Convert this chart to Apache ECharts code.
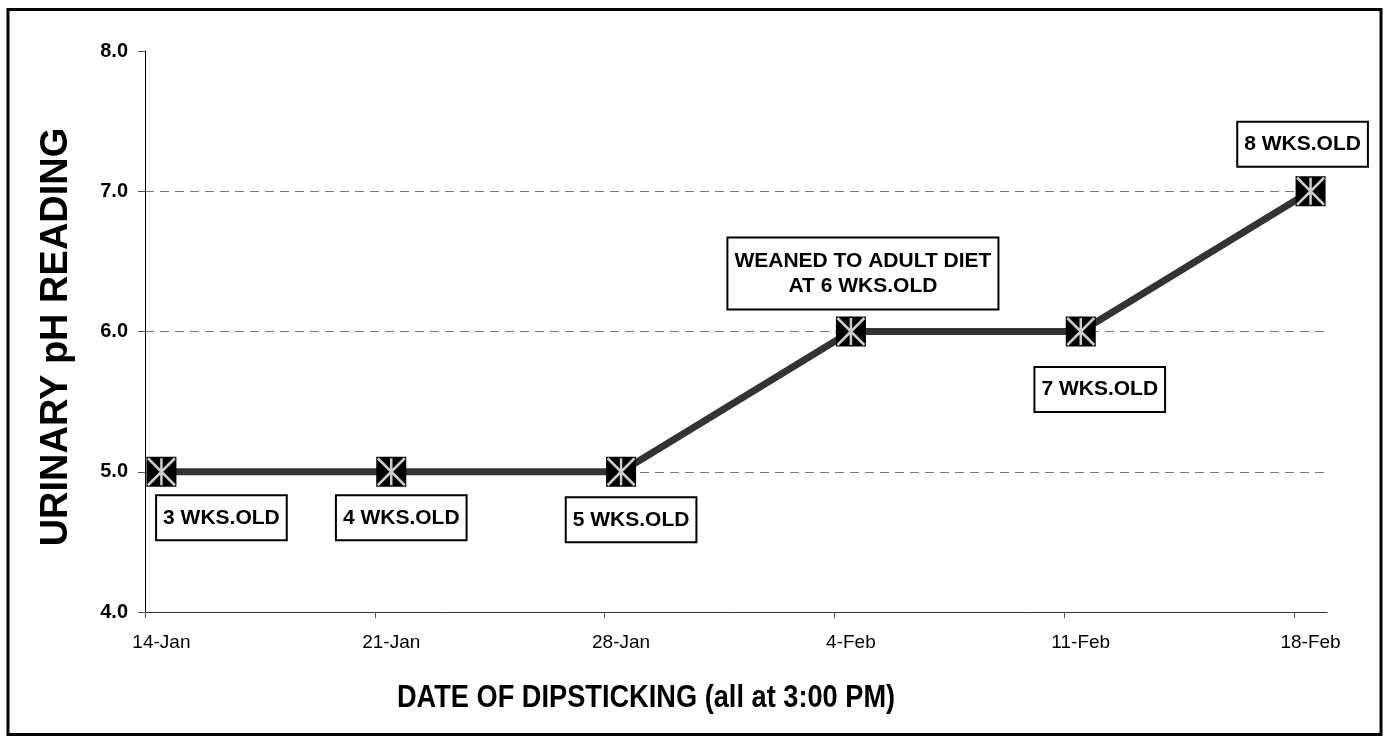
<!DOCTYPE html>
<html>
<head>
<meta charset="utf-8">
<script src="https://cdn.jsdelivr.net/npm/echarts@6/dist/echarts.min.js"></script>
<style>
  html, body { margin: 0; padding: 0; background: #fff; }
  #main { width: 1387px; height: 744px; }
</style>
</head>
<body>
<div id="main"></div>
<script>
// dates on the axis, one tick a week from 14-Jan
var tickLabels = ['14-Jan', '21-Jan', '28-Jan', '4-Feb', '11-Feb', '18-Feb'];
// reading day, counted in days after 14-Jan (point sits in the middle of the day)
var readingDays = [0.5, 7.5, 14.5, 21.5, 28.5, 35.5];
// urinary pH
var phValues = [5.0, 5.0, 5.0, 6.0, 6.0, 7.0];
// notes next to each point
var notes = ['3 WKS.OLD', '4 WKS.OLD', '5 WKS.OLD', 'WEANED TO ADULT DIET\nAT 6 WKS.OLD', '7 WKS.OLD', '8 WKS.OLD'];

var myChart = echarts.init(document.getElementById('main'));

// where the note box sits, relative to the point
var noteOffsets = [[60, 46], [10, 46], [10, 48], [12, -58], [19, 58], [-8, -47]];

var FONT = '"Liberation Sans", Arial, sans-serif';

var lineData = readingDays.map(function (d, i) {
    var twoLines = notes[i].indexOf('\n') >= 0;
    return {
        value: [d, phValues[i]],
        label: {
            show: true,
            formatter: notes[i],
            position: 'inside',
            offset: noteOffsets[i],
            color: '#000',
            fontFamily: FONT,
            fontWeight: 'bold',
            fontSize: 21,
            lineHeight: twoLines ? 25 : 23,
            backgroundColor: '#fff',
            borderColor: '#000',
            borderWidth: 2,
            padding: [10, 6]
        }
    };
});

var starData = readingDays.map(function (d, i) {
    return [d, phValues[i]];
});

var weekTicks = [0, 7, 14, 21, 28, 35];
var labelSpots = weekTicks.map(function (t) { return t + 0.5; });

var option = {
    backgroundColor: '#fff',
    animation: false,
    grid: {
        left: 145,
        right: 60,
        top: 51,
        bottom: 132
    },
    xAxis: {
        type: 'value',
        min: 0,
        max: 36,
        axisLine: { show: true, lineStyle: { color: '#333', width: 1 } },
        axisTick: {
            show: true,
            customValues: weekTicks,
            length: 6,
            lineStyle: { color: '#555' }
        },
        axisLabel: {
            customValues: labelSpots,
            formatter: function (v) {
                return tickLabels[Math.floor(v / 7)];
            },
            color: '#000',
            fontFamily: FONT,
            fontSize: 19,
            margin: 21
        },
        splitLine: { show: false }
    },
    yAxis: {
        type: 'value',
        min: 4,
        max: 8,
        interval: 1,
        axisLine: { show: true, lineStyle: { color: '#000', width: 1 } },
        axisTick: { show: true, length: 7, lineStyle: { color: '#555' } },
        axisLabel: {
            formatter: function (v) { return v.toFixed(1); },
            color: '#000',
            fontFamily: FONT,
            fontWeight: 'bold',
            fontSize: 20,
            margin: 17
        },
        splitLine: {
            show: true,
            showMinLine: false,
            showMaxLine: false,
            lineStyle: { color: '#777', type: [9, 6], width: 1 }
        }
    },
    graphic: [
        {
            type: 'rect',
            shape: { x: 8, y: 9.5, width: 1373, height: 725 },
            style: { fill: 'none', stroke: '#000', lineWidth: 3 },
            silent: true
        },
        {
            type: 'text',
            x: 57,
            y: 337,
            rotation: Math.PI / 2,
            style: {
                text: 'URINARY pH READING',
                fill: '#000',
                font: 'bold 38px ' + FONT,
                align: 'center',
                verticalAlign: 'middle'
            }
        },
        {
            type: 'text',
            x: 646,
            y: 698,
            scaleX: 0.85,
            style: {
                text: 'DATE OF DIPSTICKING (all at 3:00 PM)',
                fill: '#000',
                font: 'bold 32px ' + FONT,
                align: 'center',
                verticalAlign: 'middle'
            }
        }
    ],
    series: [
        {
            name: 'pH',
            type: 'line',
            data: lineData,
            symbol: 'rect',
            symbolSize: 30,
            showAllSymbol: true,
            itemStyle: { color: '#000' },
            lineStyle: { color: '#333', width: 7 },
            z: 3
        },
        {
            name: 'star',
            type: 'scatter',
            data: starData,
            symbol: 'path://M0,0L20,20M20,0L0,20M10,0L10,20',
            symbolSize: 27,
            itemStyle: { color: '#fff', borderColor: '#fff', borderWidth: 2.5 },
            silent: true,
            z: 4
        }
    ]
};

myChart.setOption(option);
</script>
</body>
</html>
